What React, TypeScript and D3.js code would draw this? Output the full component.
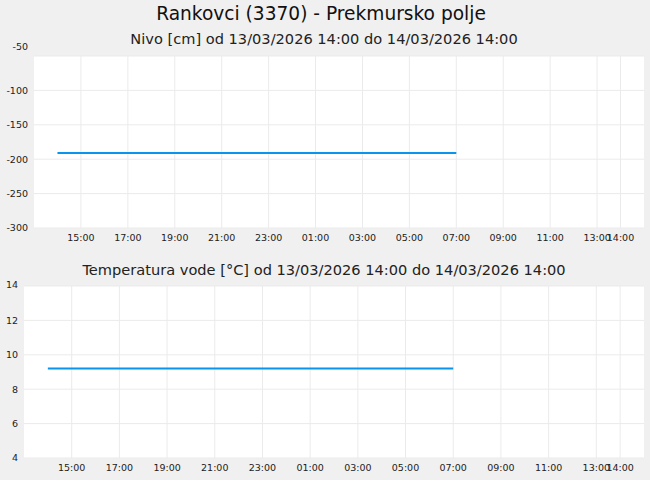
import { scaleLinear, scaleTime, line } from 'd3'

// Hourly readings, 13/03/2026 14:00 .. 14/03/2026 07:00
const readingTimes = [
  '2026-03-13T14:00', '2026-03-13T15:00', '2026-03-13T16:00', '2026-03-13T17:00',
  '2026-03-13T18:00', '2026-03-13T19:00', '2026-03-13T20:00', '2026-03-13T21:00',
  '2026-03-13T22:00', '2026-03-13T23:00', '2026-03-14T00:00', '2026-03-14T01:00',
  '2026-03-14T02:00', '2026-03-14T03:00', '2026-03-14T04:00', '2026-03-14T05:00',
  '2026-03-14T06:00', '2026-03-14T07:00',
]
const levelValues = [
  -191, -191, -191, -191, -191, -191, -191, -191, -191,
  -191, -191, -191, -191, -191, -191, -191, -191, -191,
]
const tempValues = [
  9.2, 9.2, 9.2, 9.2, 9.2, 9.2, 9.2, 9.2, 9.2,
  9.2, 9.2, 9.2, 9.2, 9.2, 9.2, 9.2, 9.2, 9.2,
]

const xDomain = ['2026-03-13T13:00', '2026-03-14T15:00']
const xTickTimes = [
  '2026-03-13T15:00', '2026-03-13T17:00', '2026-03-13T19:00', '2026-03-13T21:00',
  '2026-03-13T23:00', '2026-03-14T01:00', '2026-03-14T03:00', '2026-03-14T05:00',
  '2026-03-14T07:00', '2026-03-14T09:00', '2026-03-14T11:00', '2026-03-14T13:00',
  '2026-03-14T14:00',
]
const xTickLabels = [
  '15:00', '17:00', '19:00', '21:00', '23:00', '01:00', '03:00',
  '05:00', '07:00', '09:00', '11:00', '13:00', '14:00',
]
const levelTicks = [-50, -100, -150, -200, -250, -300]
const tempTicks = [14, 12, 10, 8, 6, 4]

const title = 'Rankovci (3370) - Prekmursko polje'
const levelTitle = 'Nivo [cm] od 13/03/2026 14:00 do 14/03/2026 14:00'
const tempTitle = 'Temperatura vode [°C] od 13/03/2026 14:00 do 14/03/2026 14:00'

const FONT = '"DejaVu Sans", sans-serif'
const parse = (s: string) => new Date(s)

interface PanelProps {
  left: number
  top: number
  right: number
  bottom: number
  values: number[]
  yTicks: number[]
  topLabelShift: number
}

function Panel({ left, top, right, bottom, values, yTicks, topLabelShift }: PanelProps) {
  const x = scaleTime().domain(xDomain.map(parse)).range([left, right])
  const y = scaleLinear()
    .domain([Math.min(...yTicks), Math.max(...yTicks)])
    .range([bottom, top])

  const pts = readingTimes.map((t, i) => ({ t: parse(t), v: values[i] }))
  const path = line<{ t: Date; v: number }>()
    .x((d) => x(d.t))
    .y((d) => y(d.v))(pts) ?? ''

  return (
    <g>
      <rect x={left} y={top} width={right - left} height={bottom - top} fill="#ffffff" />
      {/* grid */}
      {yTicks.map((v) => (
        <line key={'gy' + v} x1={left} x2={right} y1={y(v)} y2={y(v)} stroke="#ebebeb" strokeWidth={1} />
      ))}
      {xTickTimes.map((t) => (
        <line key={'gx' + t} x1={x(parse(t))} x2={x(parse(t))} y1={top} y2={bottom} stroke="#ebebeb" strokeWidth={1} />
      ))}
      <path d={path} fill="none" stroke="#0a94ee" strokeWidth={2} />
      {/* y labels */}
      {yTicks.map((v, i) => (
        <text
          key={'ly' + v}
          x={left - 6}
          y={y(v) + (i === 0 ? topLabelShift : 0)}
          dy="0.35em"
          textAnchor="end"
          fontSize={9.5}
          fill="#222"
        >
          {v}
        </text>
      ))}
      {/* x labels (13:00 and 14:00 overlap, as in the source) */}
      {xTickTimes.map((t, i) => (
        <text
          key={'lx' + t}
          x={x(parse(t))}
          y={bottom + 13}
          textAnchor="middle"
          fontSize={9.5}
          fill="#222"
        >
          {xTickLabels[i]}
        </text>
      ))}
    </g>
  )
}

export default function App() {
  return (
    <svg
      width={650}
      height={480}
      style={{ position: 'fixed', left: 0, top: 0, fontFamily: FONT }}
    >
      <rect width={650} height={480} fill="#f0f0f0" />
      <text x={321} y={20} textAnchor="middle" fontSize={18.6} fill="#111">{title}</text>
      <text x={324} y={44} textAnchor="middle" fontSize={14.6} fill="#222">{levelTitle}</text>
      <Panel left={34} top={56} right={644} bottom={228} values={levelValues} yTicks={levelTicks} topLabelShift={-9.5} />
      <text x={324} y={275} textAnchor="middle" fontSize={14.6} fill="#222">{tempTitle}</text>
      <Panel left={24} top={286} right={644} bottom={458} values={tempValues} yTicks={tempTicks} topLabelShift={-1.5} />
    </svg>
  )
}
